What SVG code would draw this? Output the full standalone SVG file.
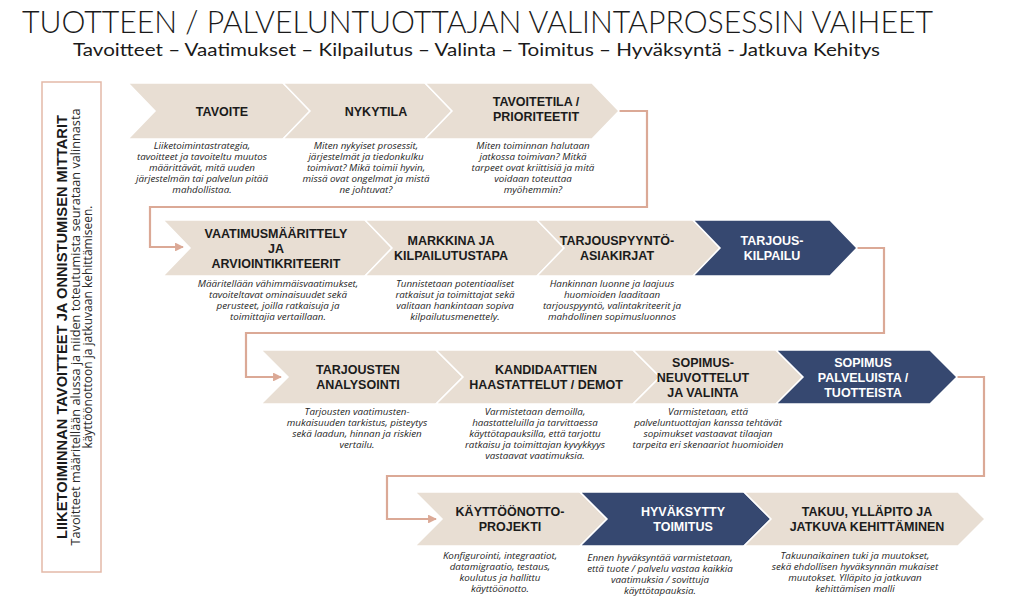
<svg xmlns="http://www.w3.org/2000/svg" width="1024" height="612" viewBox="0 0 1024 612">
<defs>
<style>
.chev{fill:#E8DED3;stroke:#ffffff;stroke-width:1.5}
.dark{fill:#364870;stroke:#ffffff;stroke-width:1.5}
.lbl{font-family:"Liberation Sans",Arial,sans-serif;font-weight:bold;font-size:12.5px;fill:#1b1b1b;text-anchor:middle}
.lblw{font-family:"Liberation Sans",Arial,sans-serif;font-weight:bold;font-size:12.5px;fill:#ffffff;text-anchor:middle}
.desc{font-family:"Open Sans","Liberation Sans",sans-serif;font-style:italic;font-size:9.8px;fill:#262626;text-anchor:middle}
.conn{fill:none;stroke:#DBA996;stroke-width:2.2}
</style>
<marker id="arr" viewBox="0 0 10 10" refX="9" refY="5" markerWidth="4" markerHeight="4" orient="auto" markerUnits="strokeWidth">
<path d="M0,0 L10,5 L0,10 z" fill="#DBA996"/>
</marker>
</defs>
<rect width="1024" height="612" fill="#ffffff"/>

<g id="title">
<text x="22" y="33" font-family="Lato,'Liberation Sans',sans-serif" font-weight="300" font-size="31" fill="#1a1a1a" textLength="911" lengthAdjust="spacingAndGlyphs">TUOTTEEN / PALVELUNTUOTTAJAN VALINTAPROSESSIN VAIHEET</text>
<text x="73" y="56" font-family="Lato,'Liberation Sans',sans-serif" font-size="18" fill="#1a1a1a" textLength="807" lengthAdjust="spacingAndGlyphs">Tavoitteet – Vaatimukset – Kilpailutus – Valinta – Toimitus – Hyväksyntä - Jatkuva Kehitys</text>
</g>

<g id="side-box">
<rect x="42" y="82" width="59" height="490" fill="#ffffff" stroke="#E3B9A8" stroke-width="1.5"/>
<text transform="translate(67,327) rotate(-90)" text-anchor="middle" font-family="'Liberation Sans',Arial,sans-serif" font-weight="bold" font-size="14" fill="#1a1a1a" textLength="424" lengthAdjust="spacingAndGlyphs">LIIKETOIMINNAN TAVOITTEET JA ONNISTUMISEN MITTARIT</text>
<text transform="translate(80,327) rotate(-90)" text-anchor="middle" font-family="'Open Sans','Liberation Sans',sans-serif" font-size="12" fill="#2a2a2a" textLength="437" lengthAdjust="spacingAndGlyphs">Tavoitteet määritellään alussa ja niiden toteutumista seurataan valinnasta</text>
<text transform="translate(92,327) rotate(-90)" text-anchor="middle" font-family="'Open Sans','Liberation Sans',sans-serif" font-size="12" fill="#2a2a2a">käyttöönottoon ja jatkuvaan kehittämiseen.</text>
</g>

<g id="connectors">
<polyline class="conn" points="619,111 647,111 647,207 150,207 150,247 183,247" marker-end="url(#arr)"/>
<polyline class="conn" points="857,248 884,248 884,333 246,333 246,377 281,377" marker-end="url(#arr)"/>
<polyline class="conn" points="957,377 984,377 984,476 387,476 387,519 436,519" marker-end="url(#arr)"/>
</g>

<g id="n1">
<polygon class="chev" points="128,83 283,83 310,111 283,139 128,139 155,111"/>
<text class="lbl" x="222" y="116">TAVOITE</text>
<text class="desc" y="149"><tspan x="202">Liiketoimintastrategia,</tspan><tspan x="202" dy="11">tavoitteet ja tavoiteltu muutos</tspan><tspan x="202" dy="11">määrittävät, mitä uuden</tspan><tspan x="202" dy="11">järjestelmän tai palvelun pitää</tspan><tspan x="202" dy="11">mahdollistaa.</tspan></text>
</g>
<g id="n2">
<polygon class="chev" points="283,83 425,83 452,111 425,139 283,139 310,111"/>
<text class="lbl" x="376" y="116">NYKYTILA</text>
<text class="desc" y="149"><tspan x="366">Miten nykyiset prosessit,</tspan><tspan x="366" dy="11">järjestelmät ja tiedonkulku</tspan><tspan x="366" dy="11">toimivat? Mikä toimii hyvin,</tspan><tspan x="366" dy="11">missä ovat ongelmat ja mistä</tspan><tspan x="366" dy="11">ne johtuvat?</tspan></text>
</g>
<g id="n3">
<polygon class="chev" points="425,83 592,83 619,111 592,139 425,139 452,111"/>
<text class="lbl" x="536" y="106">TAVOITETILA /</text>
<text class="lbl" x="536" y="121">PRIORITEETIT</text>
<text class="desc" y="149"><tspan x="533">Miten toiminnan halutaan</tspan><tspan x="533" dy="11">jatkossa toimivan? Mitkä</tspan><tspan x="533" dy="11">tarpeet ovat kriittisiä ja mitä</tspan><tspan x="533" dy="11">voidaan toteuttaa</tspan><tspan x="533" dy="11">myöhemmin?</tspan></text>
</g>

<g id="n4">
<polygon class="chev" points="163,220 365,220 392,248 365,276 163,276 190,248"/>
<text class="lbl" x="276" y="238">VAATIMUSMÄÄRITTELY</text>
<text class="lbl" x="276" y="253">JA</text>
<text class="lbl" x="276" y="268">ARVIOINTIKRITEERIT</text>
<text class="desc" y="287"><tspan x="278">Määritellään vähimmäisvaatimukset,</tspan><tspan x="278" dy="11">tavoiteltavat ominaisuudet sekä</tspan><tspan x="278" dy="11">perusteet, joilla ratkaisuja ja</tspan><tspan x="278" dy="11">toimittajia vertaillaan.</tspan></text>
</g>
<g id="n5">
<polygon class="chev" points="365,220 537,220 564,248 537,276 365,276 392,248"/>
<text class="lbl" x="451" y="245">MARKKINA JA</text>
<text class="lbl" x="451" y="260">KILPAILUTUSTAPA</text>
<text class="desc" y="287"><tspan x="455">Tunnistetaan potentiaaliset</tspan><tspan x="455" dy="11">ratkaisut ja toimittajat sekä</tspan><tspan x="455" dy="11">valitaan hankintaan sopiva</tspan><tspan x="455" dy="11">kilpailutusmenettely.</tspan></text>
</g>
<g id="n6">
<polygon class="chev" points="537,220 693,220 720,248 693,276 537,276 564,248"/>
<text class="lbl" x="617" y="245">TARJOUSPYYNTÖ-</text>
<text class="lbl" x="617" y="260">ASIAKIRJAT</text>
<text class="desc" y="287"><tspan x="612">Hankinnan luonne ja laajuus</tspan><tspan x="612" dy="11">huomioiden laaditaan</tspan><tspan x="612" dy="11">tarjouspyyntö, valintakriteerit ja</tspan><tspan x="612" dy="11">mahdollinen sopimusluonnos</tspan></text>
</g>
<g id="n7">
<polygon class="dark" points="693,220 830,220 857,248 830,276 693,276 720,248"/>
<text class="lblw" x="772" y="245">TARJOUS-</text>
<text class="lblw" x="772" y="260">KILPAILU</text>
</g>

<g id="n8">
<polygon class="chev" points="261,350 436,350 463,377 436,404 261,404 288,377"/>
<text class="lbl" x="358" y="374">TARJOUSTEN</text>
<text class="lbl" x="358" y="389">ANALYSOINTI</text>
<text class="desc" y="415"><tspan x="357">Tarjousten vaatimusten-</tspan><tspan x="357" dy="11">mukaisuuden tarkistus, pisteytys</tspan><tspan x="357" dy="11">sekä laadun, hinnan ja riskien</tspan><tspan x="357" dy="11">vertailu.</tspan></text>
</g>
<g id="n9">
<polygon class="chev" points="436,350 633,350 660,377 633,404 436,404 463,377"/>
<text class="lbl" x="546" y="374">KANDIDAATTIEN</text>
<text class="lbl" x="546" y="389">HAASTATTELUT / DEMOT</text>
<text class="desc" y="415"><tspan x="535">Varmistetaan demoilla,</tspan><tspan x="535" dy="11">haastatteluilla ja tarvittaessa</tspan><tspan x="535" dy="11">käyttötapauksilla, että tarjottu</tspan><tspan x="535" dy="11">ratkaisu ja toimittajan kyvykkyys</tspan><tspan x="535" dy="11">vastaavat vaatimuksia.</tspan></text>
</g>
<g id="n10">
<polygon class="chev" points="633,350 776,350 803,377 776,404 633,404 660,377"/>
<text class="lbl" x="703" y="367">SOPIMUS-</text>
<text class="lbl" x="703" y="382">NEUVOTTELUT</text>
<text class="lbl" x="703" y="397">JA VALINTA</text>
<text class="desc" y="415"><tspan x="708">Varmistetaan, että</tspan><tspan x="708" dy="11">palveluntuottajan kanssa tehtävät</tspan><tspan x="708" dy="11">sopimukset vastaavat tilaajan</tspan><tspan x="708" dy="11">tarpeita eri skenaariot huomioiden</tspan></text>
</g>
<g id="n11">
<polygon class="dark" points="776,350 930,350 957,377 930,404 776,404 803,377"/>
<text class="lblw" x="863" y="367">SOPIMUS</text>
<text class="lblw" x="863" y="382">PALVELUISTA /</text>
<text class="lblw" x="863" y="397">TUOTTEISTA</text>
</g>

<g id="n12">
<polygon class="chev" points="415,492 580,492 607,519 580,546 415,546 442,519"/>
<text class="lbl" x="510" y="516">KÄYTTÖÖNOTTO-</text>
<text class="lbl" x="510" y="531">PROJEKTI</text>
<text class="desc" y="559"><tspan x="500">Konfigurointi, integraatiot,</tspan><tspan x="500" dy="11">datamigraatio, testaus,</tspan><tspan x="500" dy="11">koulutus ja hallittu</tspan><tspan x="500" dy="11">käyttöönotto.</tspan></text>
</g>
<g id="n13">
<polygon class="dark" points="580,492 744,492 771,519 744,546 580,546 607,519"/>
<text class="lblw" x="683" y="516">HYVÄKSYTTY</text>
<text class="lblw" x="683" y="531">TOIMITUS</text>
<text class="desc" y="561"><tspan x="660">Ennen hyväksyntää varmistetaan,</tspan><tspan x="660" dy="11">että tuote / palvelu vastaa kaikkia</tspan><tspan x="660" dy="11">vaatimuksia / sovittuja</tspan><tspan x="660" dy="11">käyttötapauksia.</tspan></text>
</g>
<g id="n14">
<polygon class="chev" points="744,492 958,492 985,519 958,546 744,546 771,519"/>
<text class="lbl" x="867" y="516">TAKUU, YLLÄPITO JA</text>
<text class="lbl" x="867" y="531">JATKUVA KEHITTÄMINEN</text>
<text class="desc" y="559"><tspan x="855">Takuunaikainen tuki ja muutokset,</tspan><tspan x="855" dy="11">sekä ehdollisen hyväksynnän mukaiset</tspan><tspan x="855" dy="11">muutokset. Ylläpito ja jatkuvan</tspan><tspan x="855" dy="11">kehittämisen malli</tspan></text>
</g>
</svg>
